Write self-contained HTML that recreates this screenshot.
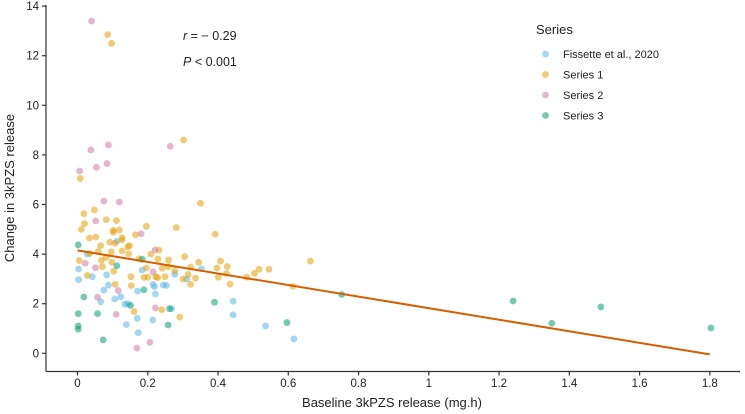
<!DOCTYPE html>
<html><head><meta charset="utf-8"><style>
html,body{margin:0;padding:0;background:#fff;}
svg{display:block;font-family:"Liberation Sans",Arial,sans-serif;}
</style></head><body>
<svg id="chart" width="745" height="414"></svg>
<script>
const seriesNames = ["Fissette et al., 2020","Series 1","Series 2","Series 3"];
const seriesColors = ["#56B4E9","#E69F00","#CC79A7","#009E73"];
const blueX = [0.112,0.028,0.353,0.003,0.184,0.277,0.042,0.083,0.003,0.311,0.088,0.215,0.219,0.244,0.253,0.171,0.075,0.222,0.066,0.106,0.123,0.135,0.143,0.268,0.443,0.443,0.17,0.214,0.139,0.535,0.173,0.616];
const blueY = [4.52,4.0,3.41,3.4,3.36,3.19,3.09,3.16,2.97,2.99,2.75,2.78,2.69,2.75,2.74,2.51,2.55,2.39,2.08,2.19,2.28,1.98,2.0,1.8,2.1,1.55,1.41,1.34,1.16,1.1,0.83,0.58];
const yellowX = [0.086,0.097,0.302,0.008,0.35,0.018,0.048,0.02,0.082,0.111,0.196,0.011,0.102,0.102,0.119,0.281,0.392,0.165,0.034,0.052,0.127,0.127,0.092,0.066,0.107,0.148,0.143,0.059,0.096,0.127,0.146,0.232,0.209,0.035,0.305,0.082,0.175,0.229,0.259,0.068,0.005,0.345,0.407,0.663,0.098,0.071,0.196,0.241,0.258,0.322,0.397,0.426,0.517,0.545,0.103,0.277,0.315,0.424,0.504,0.028,0.152,0.189,0.2,0.223,0.228,0.249,0.3,0.336,0.401,0.482,0.107,0.153,0.322,0.434,0.613,0.161,0.24,0.291];
const yellowY = [12.85,12.5,8.6,7.05,6.05,5.63,5.78,5.23,5.39,5.35,5.12,5.0,4.96,4.88,4.97,5.07,4.8,4.78,4.65,4.69,4.66,4.57,4.48,4.34,4.44,4.34,4.29,4.1,4.09,4.13,4.01,4.16,4.0,4.03,3.9,3.87,3.81,3.8,3.76,3.75,3.74,3.67,3.72,3.72,3.67,3.49,3.44,3.43,3.49,3.48,3.44,3.5,3.39,3.39,3.31,3.33,3.18,3.22,3.22,3.14,3.09,3.06,3.07,3.09,3.05,3.09,2.99,3.03,3.07,3.07,2.78,2.73,2.78,2.79,2.7,1.68,1.76,1.46];
const pinkX = [0.04,0.038,0.088,0.264,0.006,0.054,0.084,0.075,0.119,0.052,0.181,0.221,0.022,0.051,0.215,0.116,0.057,0.222,0.11,0.169,0.206];
const pinkY = [13.4,8.2,8.4,8.35,7.35,7.5,7.65,6.14,6.1,5.34,4.82,4.17,3.63,3.45,3.28,2.53,2.26,1.83,1.57,0.21,0.44];
const greenX = [0.002,0.184,0.112,0.189,0.018,0.151,0.262,0.39,0.002,0.057,0.002,0.002,0.258,0.596,0.073,0.752,1.24,1.35,1.49,1.803];
const greenY = [4.37,3.79,3.53,2.56,2.27,1.93,1.8,2.06,1.6,1.6,1.1,0.97,1.14,1.24,0.54,2.37,2.11,1.21,1.87,1.02];
const xTicks = [0,0.2,0.4,0.6,0.8,1,1.2,1.4,1.6,1.8];
const xTickLabels = ["0","0.2","0.4","0.6","0.8","1","1.2","1.4","1.6","1.8"];
const yTicks = [0,2,4,6,8,10,12,14];
const yTickLabels = ["0","2","4","6","8","10","12","14"];
const fitIntercept = 4.15;
const fitSlope = -2.33;
const fitRange = [0,1.8];

const NS="http://www.w3.org/2000/svg";
const svg=document.getElementById('chart');
const sx=v=>77.5+v*351.3;
const sy=v=>353.3-v*24.8;
function mk(tag,attrs,parent){const e=document.createElementNS(NS,tag);for(const k in attrs)e.setAttribute(k,attrs[k]);(parent||svg).appendChild(e);return e;}

// axes
const ax=mk('line',{x1:46,y1:5,x2:46,y2:371.5,stroke:'#333','stroke-width':1.2});


const bx=mk('line',{x1:46,y1:371.5,x2:740,y2:371.5,stroke:'#333','stroke-width':1.2});


xTicks.forEach((t,i)=>{
  const l=mk('line',{x1:sx(t),x2:sx(t),y1:371.5,y2:375.5,stroke:'#333','stroke-width':1.2});
  
  
  const tx=mk('text',{x:sx(t),y:387,'text-anchor':'middle','font-size':11.5,fill:'#222'});
  tx.textContent=xTickLabels[i];
  
  
});
yTicks.forEach((t,i)=>{
  const l=mk('line',{x1:42,x2:46,y1:sy(t),y2:sy(t),stroke:'#333','stroke-width':1.2});
  
  
  const tx=mk('text',{x:39,y:sy(t)+4,'text-anchor':'end','font-size':11.5,fill:'#222'});
  tx.textContent=yTickLabels[i];
  
  
});
const xt=mk('text',{x:392,y:407,'text-anchor':'middle','font-size':13,fill:'#222'});
xt.textContent='Baseline 3kPZS release (mg.h)';


const yt=mk('text',{x:0,y:0,'text-anchor':'middle','font-size':13,fill:'#222',transform:'translate(14,188) rotate(-90)'});
yt.textContent='Change in 3kPZS release';



// points
const sets=[[blueX,blueY],[yellowX,yellowY],[pinkX,pinkY],[greenX,greenY]];
sets.forEach((s,si)=>{
  const g=mk('g',{});
  
  
  s[0].forEach((xv,i)=>{
    const c=mk('circle',{cx:sx(xv),cy:sy(s[1][i]),r:3.4,fill:seriesColors[si],'fill-opacity':0.55},g);
    
    
  });
});

// fit line
const fl=mk('line',{x1:sx(fitRange[0]),y1:sy(fitIntercept+fitSlope*fitRange[0]),x2:sx(fitRange[1]),y2:sy(fitIntercept+fitSlope*fitRange[1]),stroke:'#D55E00','stroke-width':2});



// annotation
const a1=mk('text',{x:183,y:40,'font-size':12.5,fill:'#222'});
a1.innerHTML='<tspan font-style="italic">r</tspan> = − 0.29';


const a2=mk('text',{x:183,y:66,'font-size':12.5,fill:'#222'});
a2.innerHTML='<tspan font-style="italic">P</tspan> &lt; 0.001';



// legend
const lg=mk('g',{});


const lt=mk('text',{x:536,y:34,'font-size':13,fill:'#222'},lg);
lt.textContent='Series';


seriesNames.forEach((n,i)=>{
  const y=54+i*20.5;
  const c=mk('circle',{cx:545.5,cy:y,r:3.4,fill:seriesColors[i],'fill-opacity':0.55},lg);
  
  
  const t=mk('text',{x:563,y:y+4,'font-size':11,fill:'#222'},lg);
  t.textContent=n;
  
  
});
</script>
</body></html>
